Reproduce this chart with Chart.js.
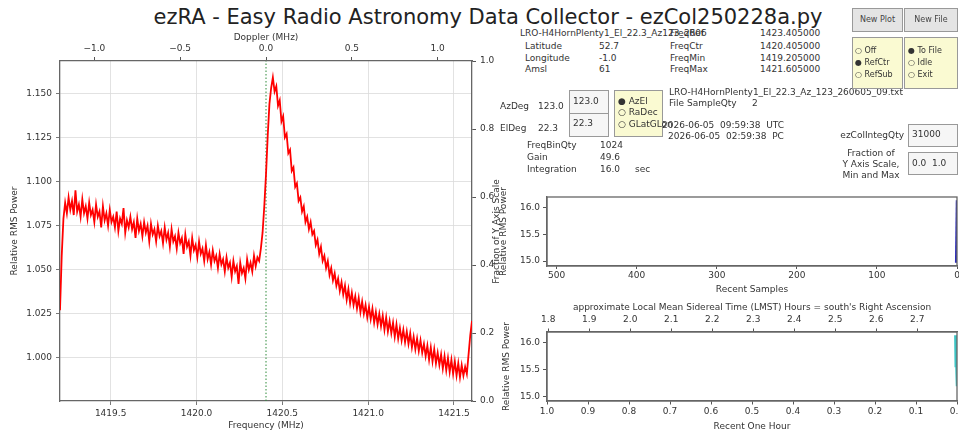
<!DOCTYPE html>
<html>
<head>
<meta charset="utf-8">
<script src="https://cdn.jsdelivr.net/npm/chart.js@4.4.1/dist/chart.umd.min.js"></script>
<style>
body { margin: 0; background: #fff; }
#wrap { position: relative; width: 959px; height: 433px; overflow: hidden; font-family: "DejaVu Sans", sans-serif; color: #333; }
canvas { position: absolute; }
.t { position: absolute; font-size: 9px; line-height: 11px; white-space: pre; color: #333; }
.box { position: absolute; border: 1px solid #999; box-sizing: border-box; }
.yel { background: #fafad2; }
.btn { background: #e4e4e4; text-align: center; font-size: 8px; line-height: 22px; color: #444; }
.ent { background: #f6f6f6; }
.rot { position: absolute; font-size: 9px; line-height: 11px; white-space: nowrap; text-align: center; transform: rotate(-90deg); color: #333; }
#title { position: absolute; left: 0; width: 976px; top: 5px; line-height: 24px; font-size: 21px; text-align: center; color: #222; }
</style>
</head>
<body>
<div id="wrap">
  <div id="title">ezRA - Easy Radio Astronomy Data Collector - ezCol250228a.py</div>

  <canvas id="spec" width="500" height="433" style="left:0;top:0"></canvas>
  <canvas id="samples" width="469" height="112" style="left:490px;top:185px"></canvas>
  <canvas id="hour" width="469" height="137" style="left:490px;top:296px"></canvas>

  <div class="rot" style="left:436px;top:225.5px;width:120px">Fraction of Y Axis Scale</div>

  <!-- station / frequency block -->
  <div class="t" style="left:520px;top:28px">LRO-H4HornPlenty1_El_22.3_Az123_2606</div>
  <div class="t" style="left:670px;top:28px">FreqRef</div>
  <div class="t" style="left:760px;top:28px">1423.405000</div>
  <div class="t" style="left:525px;top:41px">Latitude</div>
  <div class="t" style="left:599px;top:41px">52.7</div>
  <div class="t" style="left:670px;top:41px">FreqCtr</div>
  <div class="t" style="left:760px;top:41px">1420.405000</div>
  <div class="t" style="left:525px;top:52.5px">Longitude</div>
  <div class="t" style="left:599px;top:52.5px">-1.0</div>
  <div class="t" style="left:670px;top:52.5px">FreqMin</div>
  <div class="t" style="left:760px;top:52.5px">1419.205000</div>
  <div class="t" style="left:525px;top:64px">Amsl</div>
  <div class="t" style="left:599px;top:64px">61</div>
  <div class="t" style="left:670px;top:64px">FreqMax</div>
  <div class="t" style="left:760px;top:64px">1421.605000</div>

  <div class="t" style="left:500px;top:101px">AzDeg</div>
  <div class="t" style="left:538px;top:101px">123.0</div>
  <div class="t" style="left:500px;top:122.5px">ElDeg</div>
  <div class="t" style="left:538px;top:122.5px">22.3</div>
  <div class="box ent" style="left:569px;top:90px;width:40px;height:24px"></div>
  <div class="box ent" style="left:569px;top:113px;width:40px;height:24px"></div>
  <div class="t" style="left:573px;top:96px">123.0</div>
  <div class="t" style="left:573px;top:118px">22.3</div>
  <div class="box yel" style="left:614px;top:90px;width:49px;height:47px"></div>
  <div class="t" style="left:618px;top:95.5px">● AzEl</div>
  <div class="t" style="left:618px;top:107px">○ RaDec</div>
  <div class="t" style="left:618px;top:118.5px">○ GLatGLon</div>

  <div class="t" style="left:669px;top:86.5px">LRO-H4HornPlenty1_El_22.3_Az_123_260605_09.txt</div>
  <div class="t" style="left:669px;top:97.5px">File SampleQty</div>
  <div class="t" style="left:752px;top:97.5px">2</div>
  <div class="t" style="left:662px;top:119.5px">2026-06-05  09:59:38  UTC</div>
  <div class="t" style="left:668px;top:130.5px">2026-06-05  02:59:38  PC</div>

  <div class="t" style="left:527px;top:139.5px">FreqBinQty</div>
  <div class="t" style="left:600px;top:139.5px">1024</div>
  <div class="t" style="left:527px;top:151.5px">Gain</div>
  <div class="t" style="left:600px;top:151.5px">49.6</div>
  <div class="t" style="left:527px;top:163.5px">Integration</div>
  <div class="t" style="left:600px;top:163.5px">16.0</div>
  <div class="t" style="left:635px;top:163.5px">sec</div>

  <!-- controls -->
  <div class="box btn" style="left:852px;top:8px;width:51px;height:24px">New Plot</div>
  <div class="box btn" style="left:904px;top:8px;width:54px;height:24px">New File</div>
  <div class="box yel" style="left:852px;top:37px;width:51px;height:52px"></div>
  <div class="box yel" style="left:904px;top:37px;width:54px;height:52px"></div>
  <div class="t" style="left:855px;top:44.5px;font-size:8px">○ Off</div>
  <div class="t" style="left:855px;top:56.5px;font-size:8px">● RefCtr</div>
  <div class="t" style="left:855px;top:69px;font-size:8px">○ RefSub</div>
  <div class="t" style="left:908px;top:44.5px;font-size:8px">● To File</div>
  <div class="t" style="left:908px;top:56.5px;font-size:8px">○ Idle</div>
  <div class="t" style="left:908px;top:69px;font-size:8px">○ Exit</div>

  <div class="t" style="left:804px;top:129.5px;width:100px;text-align:right">ezColIntegQty</div>
  <div class="box ent" style="left:908px;top:124px;width:50px;height:23px"></div>
  <div class="t" style="left:912px;top:128.5px">31000</div>
  <div class="t" style="left:826px;top:147.5px;width:90px;text-align:center">Fraction of</div>
  <div class="t" style="left:826px;top:158.5px;width:90px;text-align:center">Y Axis Scale,</div>
  <div class="t" style="left:826px;top:169.5px;width:90px;text-align:center">Min and Max</div>
  <div class="box ent" style="left:908px;top:152px;width:50px;height:23px"></div>
  <div class="t" style="left:912px;top:158px">0.0  1.0</div>
</div>

<script>
// spectrum: 241 bins, FreqMin .. FreqMax in 0.01 MHz steps
const freqMin = 1419.205;
const freqMax = 1421.605;
const freqCtr = 1420.405;
const freqStep = 0.01;
const spectrum = [
  1.027, 1.058, 1.079, 1.088, 1.082, 1.091, 1.084, 1.089, 1.081, 1.095,
  1.083, 1.087, 1.080, 1.090, 1.082, 1.086, 1.079, 1.088, 1.081, 1.084,
  1.077, 1.087, 1.080, 1.083, 1.074, 1.086, 1.078, 1.082, 1.075, 1.084,
  1.077, 1.080, 1.074, 1.083, 1.072, 1.079, 1.076, 1.085, 1.071, 1.078,
  1.074, 1.080, 1.073, 1.077, 1.068, 1.079, 1.072, 1.076, 1.069, 1.077,
  1.071, 1.075, 1.066, 1.076, 1.070, 1.073, 1.066, 1.075, 1.069, 1.072,
  1.065, 1.074, 1.067, 1.071, 1.063, 1.073, 1.066, 1.069, 1.062, 1.071,
  1.065, 1.068, 1.059, 1.070, 1.063, 1.066, 1.058, 1.068, 1.061, 1.064,
  1.057, 1.066, 1.059, 1.062, 1.055, 1.064, 1.056, 1.060, 1.053, 1.061,
  1.055, 1.058, 1.051, 1.059, 1.053, 1.056, 1.049, 1.057, 1.051, 1.054,
  1.046, 1.055, 1.049, 1.052, 1.042, 1.054, 1.048, 1.051, 1.045, 1.056,
  1.050, 1.054, 1.049, 1.058, 1.052, 1.057, 1.055, 1.062, 1.071, 1.086,
  1.104, 1.126, 1.144, 1.153, 1.159, 1.151, 1.154, 1.143, 1.146, 1.134,
  1.137, 1.125, 1.127, 1.116, 1.118, 1.106, 1.108, 1.097, 1.099, 1.089,
  1.091, 1.083, 1.086, 1.077, 1.080, 1.073, 1.077, 1.070, 1.072, 1.064,
  1.067, 1.059, 1.063, 1.055, 1.058, 1.051, 1.055, 1.047, 1.051, 1.044,
  1.048, 1.041, 1.045, 1.038, 1.043, 1.036, 1.041, 1.033, 1.039, 1.031,
  1.037, 1.030, 1.035, 1.028, 1.034, 1.026, 1.032, 1.025, 1.030, 1.023,
  1.029, 1.022, 1.028, 1.020, 1.026, 1.019, 1.025, 1.018, 1.024, 1.016,
  1.023, 1.015, 1.021, 1.014, 1.020, 1.012, 1.019, 1.011, 1.017, 1.010,
  1.016, 1.009, 1.015, 1.008, 1.014, 1.006, 1.012, 1.005, 1.011, 1.004,
  1.010, 1.003, 1.008, 1.001, 1.007, 0.999, 1.006, 0.998, 1.005, 0.997,
  1.003, 0.996, 1.002, 0.994, 1.001, 0.993, 1.000, 0.992, 0.999, 0.991,
  0.998, 0.990, 0.997, 0.989, 0.996, 0.990, 0.995, 0.991, 1.002, 1.013,
  1.021
];
const freqTicks = [1419.5, 1420.0, 1420.5, 1421.0, 1421.5];
const dopplerTicks = [-1.0, -0.5, 0.0, 0.5, 1.0];
const powerTicks = [1.000, 1.025, 1.050, 1.075, 1.100, 1.125, 1.150];
const fractionTicks = [0.0, 0.2, 0.4, 0.6, 0.8, 1.0];

// strip charts (only 2 samples so far, both at the right edge)
const sampleIdx = [1, 0];
const samplePower = [14.97, 16.13];
const sampleTicks = [500, 400, 300, 200, 100, 0];
const hourAgo = [0.004, 0.003, 0.002, 0.001, 0.0];
const hourPower = [16.14, 15.55, 15.85, 15.45, 15.2];
const hourTicks = [1.0, 0.9, 0.8, 0.7, 0.6, 0.5, 0.4, 0.3, 0.2, 0.1, 0.0];
const lmstTicks = [1.8, 1.9, 2.0, 2.1, 2.2, 2.3, 2.4, 2.5, 2.6, 2.7];
const stripPowerTicks = [15.0, 15.5, 16.0];

Chart.defaults.font.family = "DejaVu Sans";
Chart.defaults.font.size = 9;
Chart.defaults.color = "#333";

const frame = { color: "#666", width: 1.3 };
const fix = (list) => (s) => { s.ticks = list.map(v => ({ value: v })); };
// fixed axis box sizes, no extra room for edge labels
const boxH = (n) => (s) => { s.height = n; s.paddingLeft = 0; s.paddingRight = 0; };
const boxW = (n) => (s) => { s.width = n; s.paddingTop = 0; s.paddingBottom = 0; };
const fmt = (d) => (v) => (v < 0 ? "\u2212" + Math.abs(v).toFixed(d) : v.toFixed(d));
const tickOnly = (len) => ({ drawOnChartArea: false, tickLength: len, tickColor: "#555" });

// full box round the plot area, like matplotlib spines
const boxFrame = {
  id: "boxFrame",
  afterDraw(chart) {
    const { ctx, chartArea: a } = chart;
    ctx.save();
    ctx.strokeStyle = frame.color;
    ctx.lineWidth = frame.width;
    ctx.strokeRect(a.left, a.top, a.right - a.left, a.bottom - a.top);
    ctx.restore();
  },
};

new Chart(document.getElementById("spec"), {
  type: "line",
  data: {
    datasets: [
      {
        data: spectrum.map((v, i) => ({ x: freqMin + i * freqStep, y: v })),
        borderColor: "#ff0000",
        borderWidth: 1.8,
        pointRadius: 0,
        xAxisID: "x",
        yAxisID: "y",
      },
      {
        data: [{ x: freqCtr, y: 0 }, { x: freqCtr, y: 1 }],
        borderColor: "#2e8b3a",
        borderWidth: 1,
        borderDash: [1.5, 2],
        pointRadius: 0,
        xAxisID: "x",
        yAxisID: "y2",
      },
    ],
  },
  options: {
    responsive: false,
    animation: false,
    plugins: { legend: { display: false }, tooltip: { enabled: false } },
    scales: {
      x: {
        type: "linear", position: "bottom", min: freqMin, max: freqMax,
        afterBuildTicks: fix(freqTicks), afterFit: boxH(32),
        ticks: { callback: fmt(1), autoSkip: false, maxRotation: 0, padding: 3 },
        grid: { color: "#dadada", lineWidth: 0.8, tickLength: 4, tickColor: "#555" },
        border: frame,
        title: { display: true, text: "Frequency (MHz)", padding: { top: 0, bottom: 1.5 } },
      },
      x2: {
        type: "linear", position: "top", min: freqMin - freqCtr, max: freqMax - freqCtr,
        afterBuildTicks: fix(dopplerTicks), afterFit: boxH(61),
        ticks: { callback: fmt(1), autoSkip: false, maxRotation: 0, padding: 3 },
        grid: tickOnly(4),
        border: frame,
        title: { display: true, text: "Doppler (MHz)", padding: { top: 32, bottom: 0 } },
      },
      y: {
        position: "left", min: 0.97562, max: 1.1683,
        afterBuildTicks: fix(powerTicks), afterFit: boxW(60),
        ticks: { callback: fmt(3), autoSkip: false, padding: 4 },
        grid: { color: "#dadada", lineWidth: 0.8, tickLength: 4, tickColor: "#555" },
        border: frame,
        title: { display: true, text: "Relative RMS Power", padding: { top: 9.5, bottom: 0 } },
      },
      y2: {
        position: "right", min: 0, max: 1,
        afterBuildTicks: fix(fractionTicks), afterFit: boxW(28),
        ticks: { callback: fmt(1), autoSkip: false, padding: 4 },
        grid: tickOnly(4),
        border: frame,
      },
    },
  },
});

new Chart(document.getElementById("samples"), {
  type: "line",
  data: {
    datasets: [{
      data: sampleIdx.map((x, i) => ({ x, y: samplePower[i] })),
      borderColor: "#2a2ab8",
      borderWidth: 2.5,
      pointRadius: 0,
    }],
  },
  options: {
    responsive: false,
    animation: false,
    layout: { padding: { top: 12, right: 2 } },
    plugins: { legend: { display: false }, tooltip: { enabled: false } },
    scales: {
      x: {
        type: "linear", reverse: true, min: 0, max: 512,
        afterBuildTicks: fix(sampleTicks), afterFit: boxH(31),
        ticks: { autoSkip: false, maxRotation: 0, padding: 1 },
        grid: tickOnly(3),
        border: frame,
        title: { display: true, text: "Recent Samples", padding: { top: 0, bottom: 2 } },
      },
      y: {
        min: 14.91, max: 16.19,
        afterBuildTicks: fix(stripPowerTicks), afterFit: boxW(57),
        ticks: { callback: fmt(1), autoSkip: false, padding: 3 },
        grid: tickOnly(4),
        border: frame,
        title: { display: true, text: "Relative RMS Power", padding: { top: 8, bottom: 0 } },
      },
    },
  },
  plugins: [boxFrame],
});

new Chart(document.getElementById("hour"), {
  type: "line",
  data: {
    datasets: [{
      data: hourAgo.map((x, i) => ({ x, y: hourPower[i] })),
      borderColor: "#3cc4c4",
      borderWidth: 2.5,
      pointRadius: 0,
      xAxisID: "x",
    }],
  },
  options: {
    responsive: false,
    animation: false,
    layout: { padding: { right: 2 } },
    plugins: { legend: { display: false }, tooltip: { enabled: false } },
    scales: {
      x: {
        type: "linear", position: "bottom", reverse: true, min: 0, max: 1.0,
        afterBuildTicks: fix(hourTicks), afterFit: boxH(32),
        ticks: { callback: fmt(1), autoSkip: false, maxRotation: 0, padding: 2 },
        grid: tickOnly(3.5),
        border: frame,
        title: { display: true, text: "Recent One Hour", padding: { top: 0, bottom: 1 } },
      },
      x2: {
        type: "linear", position: "top", min: 1.797, max: 2.797,
        afterBuildTicks: fix(lmstTicks), afterFit: boxH(36),
        ticks: { callback: fmt(1), autoSkip: false, maxRotation: 0, padding: 3 },
        grid: tickOnly(3.5),
        border: frame,
        title: {
          display: true,
          text: "approximate Local Mean Sidereal Time (LMST) Hours = south's Right Ascension",
          padding: { top: 6.5, bottom: 0 },
        },
      },
      y: {
        min: 14.926, max: 16.2,
        afterBuildTicks: fix(stripPowerTicks), afterFit: boxW(57),
        ticks: { callback: fmt(1), autoSkip: false, padding: 3 },
        grid: tickOnly(4),
        border: frame,
        title: { display: true, text: "Relative RMS Power", padding: { top: 11.5, bottom: 0 } },
      },
    },
  },
  plugins: [boxFrame],
});
</script>
</body>
</html>
